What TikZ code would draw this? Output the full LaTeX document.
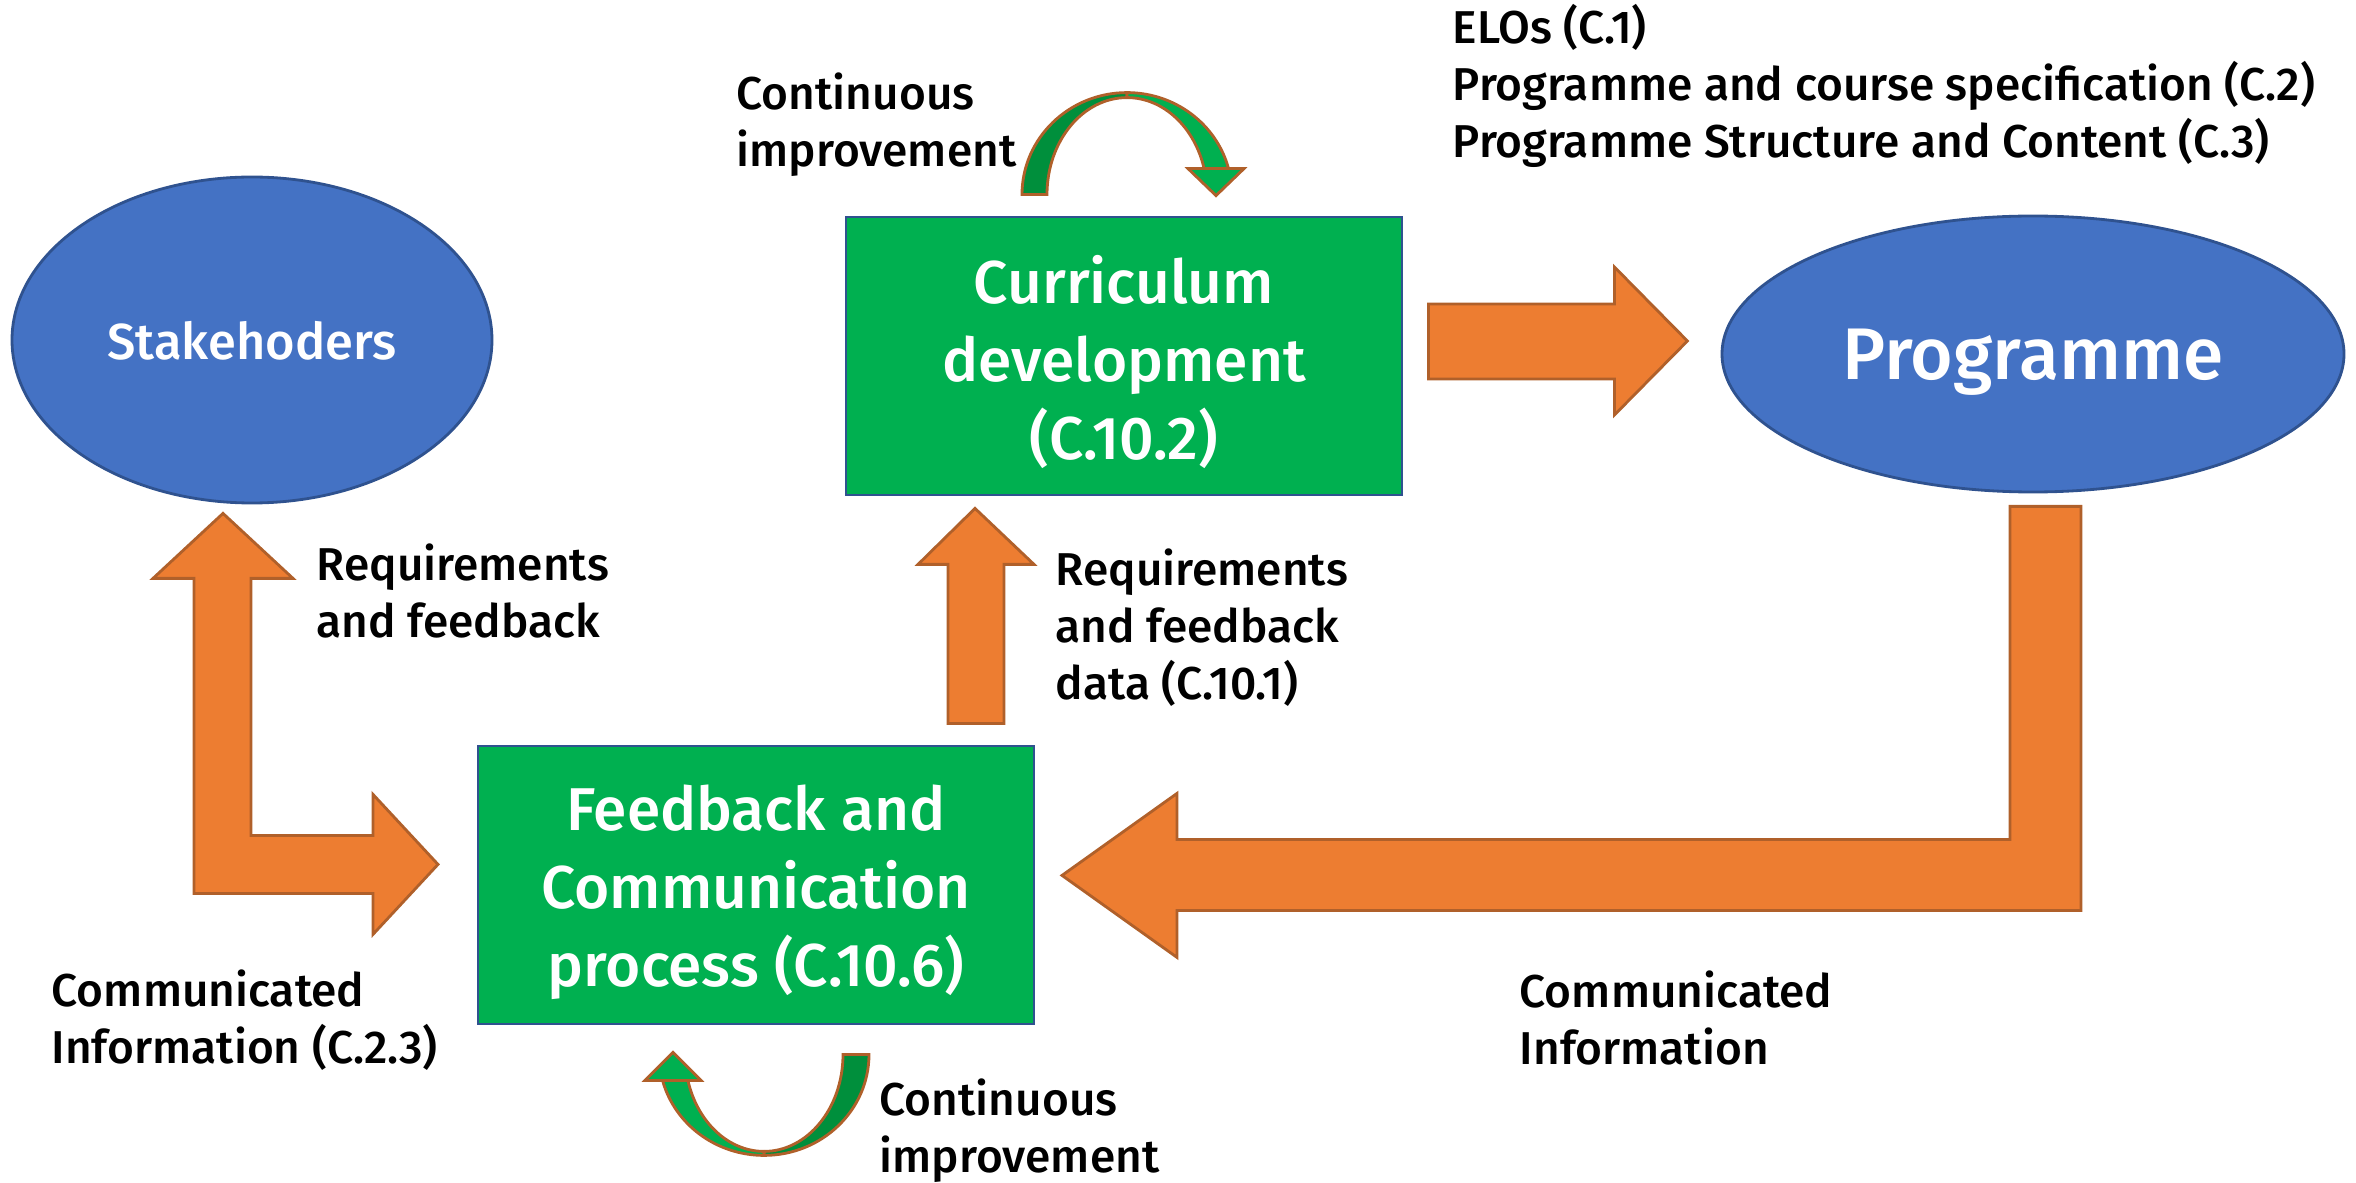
\documentclass[tikz,border=0pt]{standalone}
\usepackage{fontspec}
\setmainfont{Fira Sans}[UprightFont=* Medium]
\usepackage{xcolor}
\usetikzlibrary{shapes.geometric}

\definecolor{ppblue}{HTML}{4472C4}
\definecolor{ppedge}{HTML}{2F528F}
\definecolor{ppgreen}{HTML}{00B050}
\definecolor{ppdarkgreen}{HTML}{008F3C}
\definecolor{pporange}{HTML}{ED7D31}
\definecolor{pporangeedge}{HTML}{B0602A}
\newcommand{\topstrut}{\rule{0pt}{17pt}}

\begin{document}
\begin{tikzpicture}[x=0.1mm,y=-0.1mm,
    bubble/.style={ellipse,fill=ppblue,draw=ppedge,line width=0.8pt,text=white,inner sep=0pt,text depth=0pt},
    stage/.style={rectangle,fill=ppgreen,draw=ppedge,line width=0.8pt,text=white,align=center,inner sep=0pt,
      minimum width=55.6mm,minimum height=27.8mm,font=\fontsize{17.2}{22.2}\selectfont},
    blockarrow/.style={fill=pporange,draw=pporangeedge,line width=0.8pt,line join=miter},
    curvelight/.style={fill=ppgreen,draw=pporangeedge,line width=0.8pt},
    curvedark/.style={fill=ppdarkgreen,draw=pporangeedge,line width=0.8pt},
    note/.style={anchor=west,align=left,inner sep=0pt,font=\fontsize{13.1}{16.2}\selectfont}]
        \useasboundingbox (0,0) rectangle (2356,1183);

        % the four blocks
        \node[bubble,minimum width=48mm,minimum height=32.6mm,font=\fontsize{14.4}{17}\selectfont] (stake) at (252,340) {Stakehoders};
        \node[bubble,minimum width=62.2mm,minimum height=27.6mm,font=\fontsize{20.8}{26}\selectfont] (prog) at (2033,354) {Programme};
        \node[stage] (curr) at (1124,356) {\topstrut Curriculum\\development\\(C.10.2)};
        \node[stage] (feed) at (756,885) {\topstrut Feedback and\\Communication\\process (C.10.6)};

        % texts
        \node[note] (ciTop) at (736,125) {Continuous\\improvement};
        \node[note] (reqLeft) at (316,591) {Requirements\\and feedback};
        \node[note] (reqMid) at (1055,628) {Requirements\\and feedback\\data (C.10.1)};
        \node[note] (elos) at (1452,86) {ELOs (C.1)\\Programme and course specification (C.2)\\Programme Structure and Content (C.3)};
        \node[note] (comLeft) at (51,1020) {Communicated\\Information (C.2.3)};
        \node[note] (comRight) at (1519,1018) {Communicated\\Information};
        \node[note] (ciBot) at (879,1131) {Continuous\\improvement};

        % curriculum -> programme
        \draw[blockarrow,shift={(curr.east)}] (25,-52) -- (211,-52) -- (211,-89) -- (284,-15) -- (211,59) -- (211,23) -- (25,23) -- cycle;
        % feedback -> curriculum
        \draw[blockarrow,shift={(curr.south)}] (-176,227) -- (-176,68) -- (-206,68) -- (-149,12) -- (-90,68) -- (-120,68) -- (-120,227) -- cycle;
        % stakeholders <-> feedback
        \draw[blockarrow,shift={(stake.south)}] (-29,9) -- (41,74) -- (-1,74) -- (-1,331) -- (121,331) -- (121,290) -- (186,360)
            -- (121,430) -- (121,389) -- (-58,389) -- (-58,74) -- (-99,74) -- cycle;
        % programme -> feedback
        \draw[blockarrow,shift={(prog.south)}] (-23,13) -- (48,13) -- (48,417) -- (-856,417) -- (-856,464) -- (-971,382)
            -- (-856,300) -- (-856,346) -- (-23,346) -- cycle;

        % continuous improvement, top
        \begin{scope}[shift={(curr.north)}]
            \draw[curvedark] (-102,-21) arc[start angle=180,end angle=270,x radius=105,y radius=102] -- (3,-118)
                arc[start angle=270,end angle=180,x radius=80,y radius=97] -- cycle;
            \draw[curvelight] (3,-123) arc[start angle=270,end angle=345,x radius=105,y radius=102] -- (80.3,-46.1)
                arc[start angle=345,end angle=270,x radius=80,y radius=97] -- cycle;
            \draw[curvelight] (64,-47) -- (120,-47) -- (92,-20) -- cycle;
        \end{scope}
        % continuous improvement, bottom
        \begin{scope}[shift={(feed.south)}]
            \draw[curvedark] (113,29) arc[start angle=0,end angle=90,x radius=105,y radius=101] -- (8,126)
                arc[start angle=90,end angle=0,x radius=79,y radius=97] -- cycle;
            \draw[curvelight] (8,130) arc[start angle=90,end angle=165,x radius=105,y radius=101] -- (-68.3,54.1)
                arc[start angle=165,end angle=90,x radius=79,y radius=97] -- cycle;
            \draw[curvelight] (-111,55) -- (-55,55) -- (-83,27) -- cycle;
        \end{scope}
\end{tikzpicture}
\end{document}
